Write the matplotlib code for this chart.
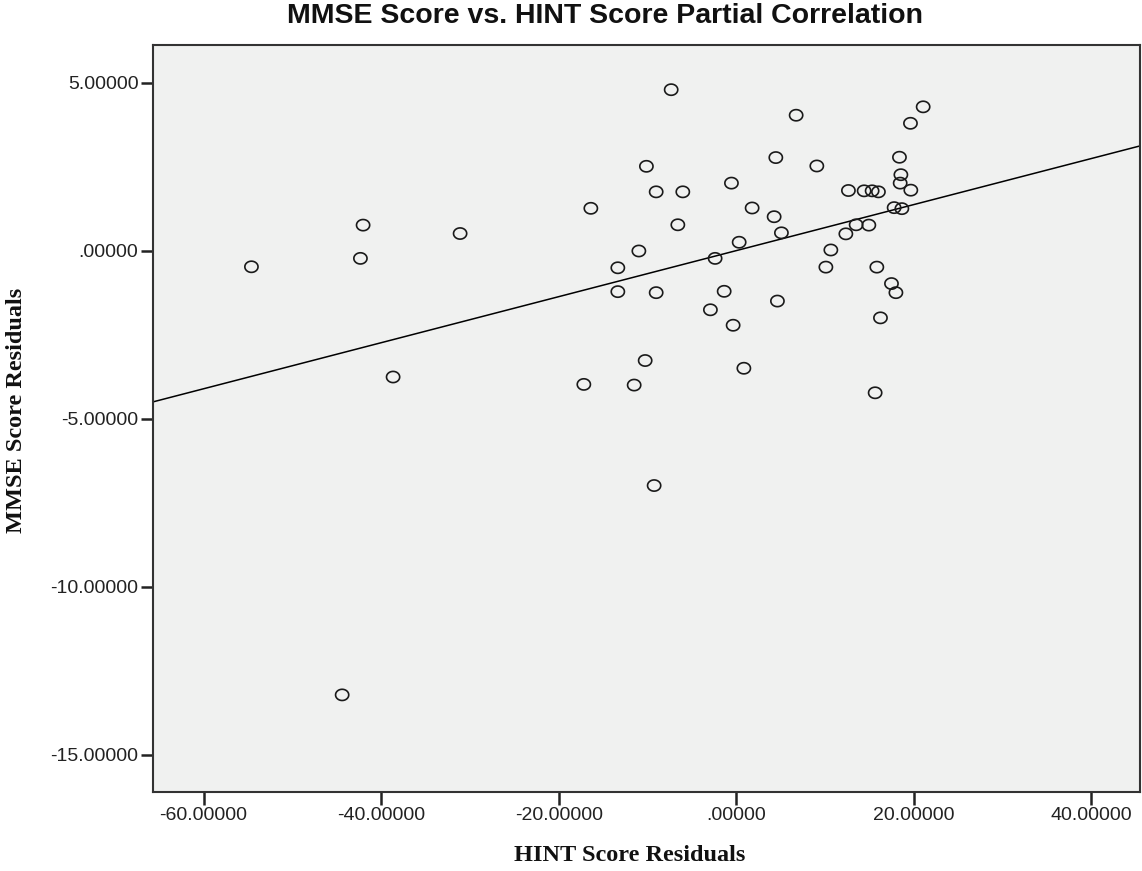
import matplotlib
matplotlib.use("Agg")
import matplotlib.pyplot as plt
from matplotlib.path import Path
import numpy as np

# HINT score residuals (x) and MMSE score residuals (y)
hint_resid = [-7.32, 6.76, 21.07, 19.64, -10.11, 4.47, 9.09, 18.40, 18.56, 18.48,
              19.68, -9.01, -6.01, -0.53, 12.65, 14.42, 15.32, 16.03, -16.37, 1.80,
              4.28, 17.80, 18.67, -6.57, 5.10, 13.52, 14.95, 12.36, 0.34, -2.37,
              -10.96, 10.67, -13.33, 10.11, 15.85, -13.33, -9.01, -1.35, 4.65, 17.50,
              18.00, -2.90, -0.34, 16.26, -10.25, 0.87, -17.16, -11.49, 15.66, -9.24,
              -54.61, -42.03, -42.33, -31.10, -38.65, -44.39]
mmse_resid = [4.79, 4.03, 4.28, 3.79, 2.51, 2.77, 2.52, 2.78, 2.26, 2.01,
              1.80, 1.75, 1.75, 2.01, 1.79, 1.78, 1.78, 1.75, 1.26, 1.27,
              1.01, 1.28, 1.25, 0.77, 0.53, 0.77, 0.76, 0.50, 0.25, -0.23,
              -0.01, 0.02, -0.51, -0.49, -0.49, -1.22, -1.25, -1.21, -1.50, -0.98,
              -1.25, -1.76, -2.22, -2.00, -3.27, -3.50, -3.98, -4.00, -4.23, -6.99,
              -0.48, 0.76, -0.23, 0.51, -3.76, -13.22]

fit_slope = 0.0685
fit_intercept = 0.0

x_ticks = [-60, -40, -20, 0, 20, 40]
y_ticks = [-15, -10, -5, 0, 5]

def fmt(v):
    s = "%.5f" % v
    if s.startswith("0."):
        s = s[1:]
    elif s.startswith("-0."):
        s = "-" + s[2:]
    return s

# slightly flattened circle marker
t = np.linspace(0, 2 * np.pi, 60)
ellipse = Path(np.column_stack([np.cos(t), 0.85 * np.sin(t)]), closed=True)

fig = plt.figure(figsize=(11.42, 8.71), dpi=100)
ax = fig.add_axes([153/1142, 1 - 792/871, (1140 - 153)/1142, (792 - 45)/871])
ax.set_facecolor("#F0F1F0")

xlim = (-65.7, 45.5)
ylim = (-16.11, 6.12)
ax.set_xlim(*xlim)
ax.set_ylim(*ylim)

xs = np.array(xlim)
ax.plot(xs, fit_intercept + fit_slope * xs, color="black", lw=1.1, zorder=2)
ax.scatter(hint_resid, mmse_resid, s=90, marker=ellipse, facecolors="none",
           edgecolors="#1a1a1a", linewidths=1.2, zorder=3)

ax.set_xticks(x_ticks)
ax.set_xticklabels([fmt(v) for v in x_ticks])
ax.set_yticks(y_ticks)
ax.set_yticklabels([fmt(v) for v in y_ticks])
ax.tick_params(direction="out", length=9, width=1.8, labelsize=14,
               colors="#222222", pad=1.5)
for lab in ax.get_xticklabels() + ax.get_yticklabels():
    lab.set_fontfamily("Liberation Sans")
for sp in ax.spines.values():
    sp.set_linewidth(1.5)
    sp.set_color("#333333")

fig.text(605/1142, 1 - 16/871, "MMSE Score vs. HINT Score Partial Correlation",
         ha="center", va="center", fontsize=20.5, fontweight="bold",
         family="Liberation Sans", color="#111111")
fig.text(630/1142, 1 - 855/871, "HINT Score Residuals", ha="center", va="center",
         fontsize=17.5, fontweight="bold", family="Liberation Serif", color="#111111")
fig.text(17/1142, 1 - 410/871, "MMSE Score Residuals", ha="center", va="center",
         rotation=90, fontsize=17.5, fontweight="bold", family="Liberation Serif",
         color="#111111")

fig.savefig("out.png", dpi=100, facecolor="white")
